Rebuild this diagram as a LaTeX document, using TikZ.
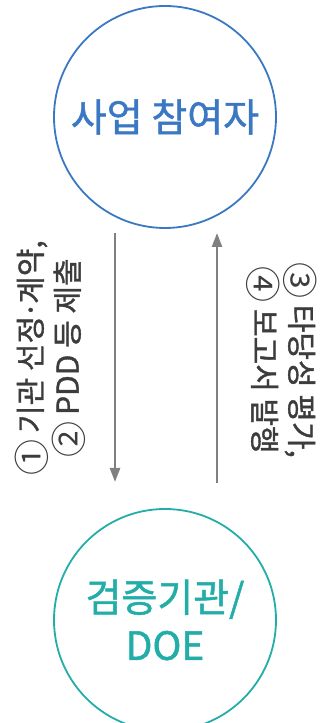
\documentclass[tikz,border=0pt]{standalone}
\usepackage{fontspec}
\newfontfamily\kr[FakeBold=1.2]{Noto Sans CJK KR}
\newfontfamily\krnum{Noto Sans CJK KR}
\usetikzlibrary{arrows.meta}
\definecolor{partblue}{HTML}{3B78C3}
\definecolor{doeteal}{HTML}{22ADA8}
\definecolor{flowgray}{HTML}{808080}
\definecolor{notegray}{HTML}{3C3C3C}
\newcommand{\stepno}[1]{\raisebox{-0.12em}{\krnum\fontsize{36}{37}\selectfont #1}}
\newcommand{\middot}{\kern-.08em·\kern-.08em}
\begin{document}
\begin{tikzpicture}[x=1pt,y=1pt,
  party/.style={circle,draw,line width=1.8pt,minimum size=222pt,inner sep=0pt,align=center,font=\kr\fontsize{39}{48}\selectfont},
  flow/.style={line width=2.5pt,color=flowgray,-{Triangle[width=10pt,length=14pt]}},
  note/.style={align=center,text=notegray,inner sep=0pt,font=\kr\fontsize{30}{37}\selectfont}]
\useasboundingbox (0,0) rectangle (321,723);
\clip (0,0) rectangle (321,723);
\node[party,draw=partblue,text=partblue] (part) at (165,606) {사업 참여자};
\node[party,draw=doeteal,text=doeteal] (doe) at (165,103) {검증기관/\\DOE};
\coordinate (reqS) at (115,490);
\coordinate (reqE) at (115,241);
\coordinate (repS) at (217,240);
\coordinate (repE) at (217,490);
\draw[flow] (reqS) -- (reqE);
\draw[flow] (repS) -- (repE);
\node[note,rotate=90] (req) at (50,365) {\stepno{①} 기관 선정\middot 계약,\\\stepno{②} PDD 등 제출};
\node[note,rotate=-90] (rep) at (282,363) {\stepno{③} 타당성 평가,\\\stepno{④} 보고서 발행};
\end{tikzpicture}
\end{document}
